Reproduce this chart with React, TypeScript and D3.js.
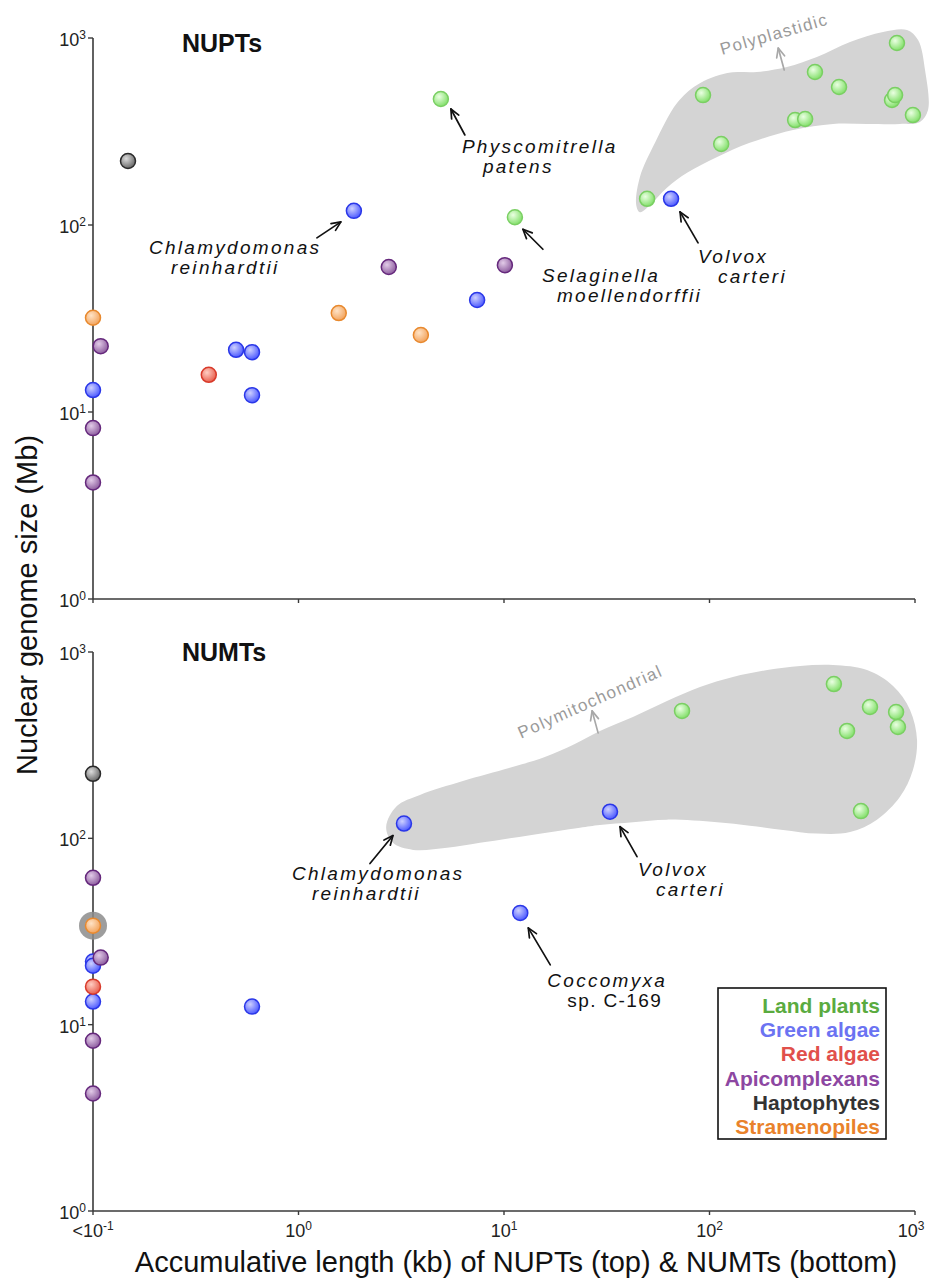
import * as d3 from "d3"

const W = 929
const H = 1281

// groups and legend
const groups = ["Land plants", "Green algae", "Red algae", "Apicomplexans", "Haptophytes", "Stramenopiles"]
const legendColors = ["#5aab3f", "#6b73f2", "#e1504b", "#8d47a2", "#333333", "#e9822b"]
const dotHi = ["#eaffe2", "#cdd0ff", "#ffcdc2", "#e2cbe8", "#dcdcdc", "#ffe3c6"]
const dotBase = ["#84e06c", "#4f5cff", "#e8604f", "#8f5fa0", "#6a6a6a", "#f2a45e"]
const dotStroke = ["#7acf63", "#2a37e8", "#d83a2a", "#65287c", "#2a2a2a", "#e8892e"]

// NUPTs panel: [kb, Mb]
const nuptLand = [[4.93, 472], [11.3, 110], [49.7, 138], [93, 495], [114, 271], [261, 364], [292, 369], [326, 658], [427, 547], [773, 466], [800, 495], [817, 940], [977, 387]]
const nuptGreenAlgae = [[0.1, 13.1], [0.497, 21.5], [0.594, 20.9], [0.594, 12.3], [1.86, 119], [7.4, 39.7], [65, 138]]
const nuptRed = [[0.366, 15.8]]
const nuptApi = [[0.109, 22.5], [0.1, 8.2], [0.1, 4.2], [2.75, 59.6], [10.1, 61]]
const nuptHapto = [[0.148, 220]]
const nuptStram = [[0.1, 31.9], [1.57, 33.8], [3.94, 25.8]]

// NUMTs panel: [kb, Mb]
const numtLand = [[73.5, 483], [403, 673], [604, 507], [809, 476], [826, 396], [467, 377], [546, 140]]
const numtGreenAlgae = [[0.1, 21.8], [0.1, 20.7], [0.1, 13.3], [0.594, 12.5], [3.26, 120], [12.0, 39.8], [32.8, 139]]
const numtRed = [[0.1, 16.0]]
const numtApi = [[0.1, 61.4], [0.109, 22.9], [0.1, 8.2], [0.1, 4.27]]
const numtHapto = [[0.1, 222]]
const numtStram = [[0.1, 34]]
const numtHighlight = [[0.1, 34]]

// outline of the grey regions, [kb, Mb]
const plastidBlob = [[44, 128], [45.9, 181], [54.3, 275], [69.5, 449], [86.9, 561], [122, 650], [170, 658], [238, 700], [333, 791], [483, 952], [699, 1077], [914, 1104], [1035, 975], [1119, 674], [1157, 412], [1057, 356], [845, 347], [584, 347], [399, 347], [255, 322], [157, 275], [109, 231], [77.8, 190], [62.1, 158], [52.5, 131], [45.9, 117]]
const mitoBlob = [[2.67, 115], [3.01, 149], [3.9, 171], [6.31, 203], [11.1, 242], [15.8, 273], [22.1, 321], [29.3, 377], [42.4, 448], [62.1, 546], [89.9, 649], [130, 734], [191, 800], [276, 841], [399, 851], [584, 800], [782, 657], [946, 489], [1023, 337], [977, 233], [845, 167], [653, 126], [483, 108], [333, 106], [228, 111], [157, 117], [109, 122], [62.1, 126], [42.4, 122], [29.3, 118], [23.4, 114], [13.4, 104], [7.64, 94.6], [5.28, 88.9], [3.61, 86.7], [2.88, 94.6]]

// labelled species
const nuptNames = [
  { lines: ["Chlamydomonas", "reinhardtii"], at: [1.86, 119] },
  { lines: ["Physcomitrella", "patens"], at: [4.93, 472] },
  { lines: ["Selaginella", "moellendorffii"], at: [11.3, 110] },
  { lines: ["Volvox", "carteri"], at: [65, 138] },
]
const numtNames = [
  { lines: ["Chlamydomonas", "reinhardtii"], at: [3.26, 120] },
  { lines: ["Volvox", "carteri"], at: [32.8, 139] },
  { lines: ["Coccomyxa", "sp. C-169"], at: [12.0, 39.8] },
]
// pixel offsets from the point: arrow head, arrow tail, line 1, line 2
const nuptNameLayout = [
  { head: [-13, 11], tail: [-37, 27], l1: [-205, 43], l2: [-183, 63] },
  { head: [10, 10], tail: [24, 36], l1: [21, 54], l2: [42, 74] },
  { head: [8, 12], tail: [28, 32], l1: [27, 65], l2: [42, 85] },
  { head: [9, 13], tail: [27, 44], l1: [27, 64], l2: [47, 84] },
]
const numtNameLayout = [
  { head: [-11, 12], tail: [-34, 40], l1: [-112, 56], l2: [-92, 76] },
  { head: [10, 15], tail: [27, 45], l1: [28, 64], l2: [46, 84] },
  { head: [8, 15], tail: [30, 52], l1: [27, 74], l2: [47, 94], plain2: true },
]

const regionNotes = [
  { text: "Polyplastidic", at: [115, 811], arrowFrom: [231, 674], angle: -16 },
  { text: "Polymitochondrial", at: [12.1, 342], arrowFrom: [28.7, 368], angle: -24 },
]

const xTickVals = [0.1, 1, 10, 100, 1000]
const xTickExp = ["-1", "0", "1", "2", "3"]
const yTickVals = [1, 10, 100, 1000]
const yTickExp = ["0", "1", "2", "3"]

const FONT = "'Liberation Sans', Arial, Helvetica, sans-serif"

const x = d3.scaleLog().domain([0.1, 1000]).range([93, 915])
const yTop = d3.scaleLog().domain([1, 1000]).range([599, 38])
const yBot = d3.scaleLog().domain([1, 1000]).range([1211, 652])

function Arrow({ x1, y1, x2, y2, color }: { x1: number; y1: number; x2: number; y2: number; color: string }) {
  const a = Math.atan2(y2 - y1, x2 - x1)
  const L = 10
  const s = 0.42
  const p1 = [x2 - L * Math.cos(a - s), y2 - L * Math.sin(a - s)]
  const p2 = [x2 - L * Math.cos(a + s), y2 - L * Math.sin(a + s)]
  return (
    <g stroke={color} strokeWidth={1.7} fill="none" strokeLinecap="round" strokeLinejoin="round">
      <line x1={x1} y1={y1} x2={x2} y2={y2} />
      <polyline points={`${p1[0]},${p1[1]} ${x2},${y2} ${p2[0]},${p2[1]}`} />
    </g>
  )
}

function Panel({ y, series, blob, names, layout, note, title, titleY, showXLabels, highlight }: any) {
  const line = d3.line<number[]>()
    .x((d) => x(d[0]))
    .y((d) => y(d[1]))
    .curve(d3.curveCatmullRomClosed.alpha(0.5))
  const [y0, y1] = y.range()
  return (
    <g>
      <path d={line(blob) || ""} fill="#d4d4d4" />
      {/* axes */}
      <line x1={x(0.1)} x2={x(1000)} y1={y0} y2={y0} stroke="#3a3a3a" strokeWidth={1.6} />
      <line x1={x(0.1)} x2={x(0.1)} y1={y0} y2={y1} stroke="#3a3a3a" strokeWidth={1.6} />
      {xTickVals.map((v) => (
        <line key={v} x1={x(v)} x2={x(v)} y1={y0} y2={y0 + 4} stroke="#3a3a3a" strokeWidth={1.4} />
      ))}
      {yTickVals.map((v, i) => (
        <g key={v}>
          <line x1={x(0.1) - 5} x2={x(0.1)} y1={y(v)} y2={y(v)} stroke="#3a3a3a" strokeWidth={1.4} />
          <text x={86} y={y(v) + 8} textAnchor="end" fontFamily={FONT} fontSize={18} fill="#222">
            10<tspan dy={-7} fontSize={12}>{yTickExp[i]}</tspan>
          </text>
        </g>
      ))}
      {showXLabels && xTickVals.map((v, i) => (
        <text key={v} x={x(v) + (i === 4 ? -4 : 0)} y={y0 + 26} textAnchor="middle" fontFamily={FONT} fontSize={18} fill="#222">
          {i === 0 ? "<10" : "10"}<tspan dy={-7} fontSize={12}>{xTickExp[i]}</tspan>
        </text>
      ))}
      <text x={182} y={titleY} fontFamily={FONT} fontSize={25} fontWeight="bold" fill="#111">{title}</text>

      {/* region note */}
      <g>
        <Arrow x1={x(note.arrowFrom[0])} y1={y(note.arrowFrom[1])} x2={x(note.arrowFrom[0]) - 6} y2={y(note.arrowFrom[1]) - 22} color="#a8a8a8" />
        <text
          transform={`translate(${x(note.at[0])},${y(note.at[1])}) rotate(${note.angle})`}
          fontFamily={FONT} fontSize={17} letterSpacing={1.3} fill="#9a9a9a"
        >{note.text}</text>
      </g>

      {/* highlight halo */}
      {highlight && highlight.map((d: number[], i: number) => (
        <circle key={i} cx={x(d[0])} cy={y(d[1])} r={14} fill="#8c8c8c" opacity={0.85} />
      ))}

      {/* points */}
      {series.map((pts: number[][], gi: number) => (
        <g key={gi}>
          {pts.map((d, i) => (
            <circle key={i} cx={x(d[0])} cy={y(d[1])} r={7.5} fill={`url(#grad${gi})`} stroke={dotStroke[gi]} strokeWidth={1.5} />
          ))}
        </g>
      ))}

      {/* species labels */}
      {names.map((n: any, i: number) => {
        const px = x(n.at[0])
        const py = y(n.at[1])
        const lo = layout[i]
        return (
          <g key={i}>
            <Arrow x1={px + lo.tail[0]} y1={py + lo.tail[1]} x2={px + lo.head[0]} y2={py + lo.head[1]} color="#111" />
            <text x={px + lo.l1[0]} y={py + lo.l1[1]} fontFamily={FONT} fontSize={19} fontStyle="italic" letterSpacing={2.3} fill="#111">{n.lines[0]}</text>
            <text x={px + lo.l2[0]} y={py + lo.l2[1]} fontFamily={FONT} fontSize={19} fontStyle={lo.plain2 ? "normal" : "italic"} letterSpacing={lo.plain2 ? 1.4 : 2.3} fill="#111">{n.lines[1]}</text>
          </g>
        )
      })}
    </g>
  )
}

export default function App() {
  const nuptSeries = [nuptLand, nuptGreenAlgae, nuptRed, nuptApi, nuptHapto, nuptStram]
  const numtSeries = [numtLand, numtGreenAlgae, numtRed, numtApi, numtHapto, numtStram]
  return (
    <div style={{ position: "absolute", left: 0, top: 0 }}>
      <svg width={W} height={H} viewBox={`0 0 ${W} ${H}`} style={{ display: "block", background: "#fff" }}>
        <defs>
          {groups.map((g, i) => (
            <radialGradient key={g} id={`grad${i}`} cx="38%" cy="35%" r="65%">
              <stop offset="0%" stopColor={dotHi[i]} />
              <stop offset="100%" stopColor={dotBase[i]} />
            </radialGradient>
          ))}
        </defs>
        <rect width={W} height={H} fill="#fff" />

        <Panel y={yTop} series={nuptSeries} blob={plastidBlob} names={nuptNames} layout={nuptNameLayout}
          note={regionNotes[0]} title="NUPTs" titleY={52} showXLabels={false} />
        <Panel y={yBot} series={numtSeries} blob={mitoBlob} names={numtNames} layout={numtNameLayout}
          note={regionNotes[1]} title="NUMTs" titleY={661} showXLabels={true} highlight={numtHighlight} />

        {/* axis titles */}
        <text transform="translate(37,605) rotate(-90)" textAnchor="middle" fontFamily={FONT} fontSize={29} fill="#111">
          Nuclear genome size (Mb)
        </text>
        <text x={516} y={1272} textAnchor="middle" fontFamily={FONT} fontSize={29} fill="#111">
          Accumulative length (kb) of NUPTs (top) &amp; NUMTs (bottom)
        </text>

        {/* legend */}
        <rect x={718} y={988} width={168} height={151} fill="#fff" stroke="#111" strokeWidth={1.6} />
        {groups.map((g, i) => (
          <text key={g} x={880} y={1013 + i * 24.2} textAnchor="end" fontFamily={FONT} fontSize={21} fontWeight="bold" fill={legendColors[i]}>
            {g}
          </text>
        ))}
      </svg>
    </div>
  )
}
